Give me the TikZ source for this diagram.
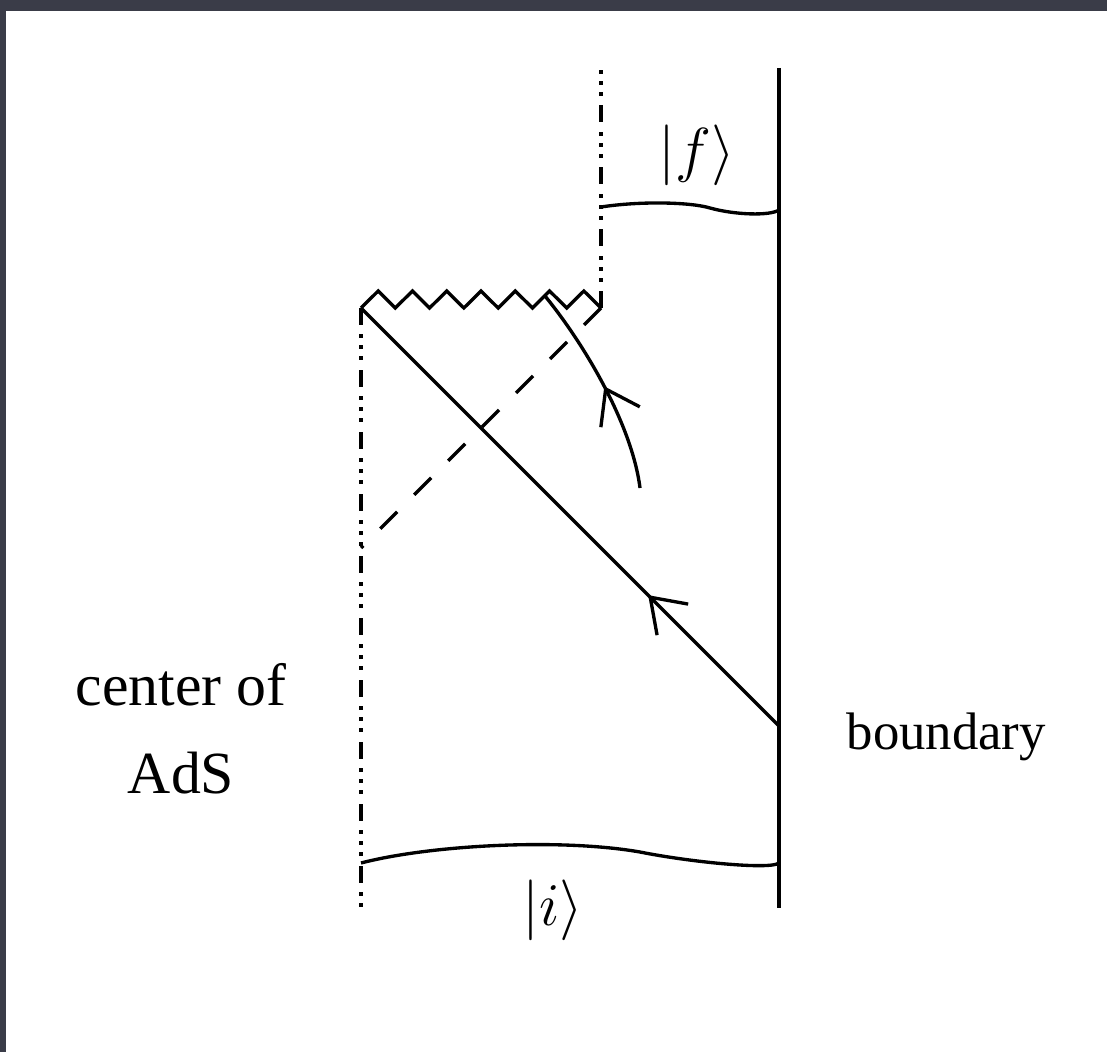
\documentclass[tikz,border=0pt]{standalone}
\usepackage[no-math]{fontspec}
\setmainfont{Liberation Serif}
\usetikzlibrary{arrows.meta,decorations.markings}
\definecolor{slidec}{RGB}{58,60,72}

\begin{document}
\begin{tikzpicture}[
  x=0.01cm, y=-0.01cm,
  line width=0.95pt,
  font=\fontsize{17}{20}\selectfont,
  wall/.style={draw, dash pattern=on 0.17cm off 0.09cm on 0.04cm off 0.07cm
    on 0.04cm off 0.07cm on 0.04cm off 0.10cm},
  ray/.style={draw, dash pattern=on 0.24cm off 0.24cm},
  barb/.style={postaction={decorate}, decoration={markings,
    mark=at position #1 with {\arrow{Straight Barb[length=9pt,width=12.5pt]}}}},
  lbl/.style={inner sep=0pt},
  ket/.style={inner sep=0pt, font=\fontsize{18}{21}\selectfont},
]

% ---- slide frame ----
\useasboundingbox (0,0) rectangle (1107,1052);
\fill[slidec] (0,0) rectangle (1107,1052);
\fill[white] (6,11) rectangle (1107,1052);

% ---- corner points ----
\coordinate (singL) at (361,308);
\coordinate (singR) at (601,308);
\coordinate (cenB) at (361,908);
\coordinate (cutT) at (601,66);
\coordinate (bdyT) at (779,68);
\coordinate (bdyB) at (779,908);
\coordinate (bdyP) at (779,726);
\coordinate (rayE) at (361,548);
\coordinate (curB) at (640,488);
\coordinate (hitS) at (545,296);
\coordinate (fL) at (601,207);
\coordinate (fR) at (779,210);
\coordinate (iL) at (361,863);
\coordinate (iR) at (779,863);

% ---- center, cut-off and boundary ----
\draw[wall] (singL) -- (cenB);
\draw[wall] (singR) -- (cutT);
\draw (bdyT) -- (bdyB);

% ---- singularity ----
\draw (singL) \foreach \k in {1,...,7} { -- ++(17.143,-17) -- ++(17.143,17) };

% ---- light rays ----
\draw[barb=0.313] (bdyP) -- (singL);
\draw[ray] (singR) -- (rayE);
\draw[barb=0.5] (curB) .. controls (632,425) and (585,345) .. (hitS);

% ---- state slices ----
\draw (fL) .. controls (640,201) and (690,202) .. (710,208)
  .. controls (735,215) and (770,216) .. (fR);
\draw (iL) .. controls (430,845) and (560,838) .. (640,852)
  .. controls (690,862) and (770,870) .. (iR);

% ---- labels ----
\node[ket] (fket) at (697,155) {$|f\rangle$};
\node[ket] (iket) at (553,910) {$|i\rangle$};
\node[lbl, anchor=base] (cen1) at (181,705) {center of};
\node[lbl, anchor=base] (cen2) at (181,793) {AdS};
\node[lbl, anchor=base west, font=\fontsize{15}{18}\selectfont] (bdy)
  at (845,749) {boundary};

\end{tikzpicture}
\end{document}
